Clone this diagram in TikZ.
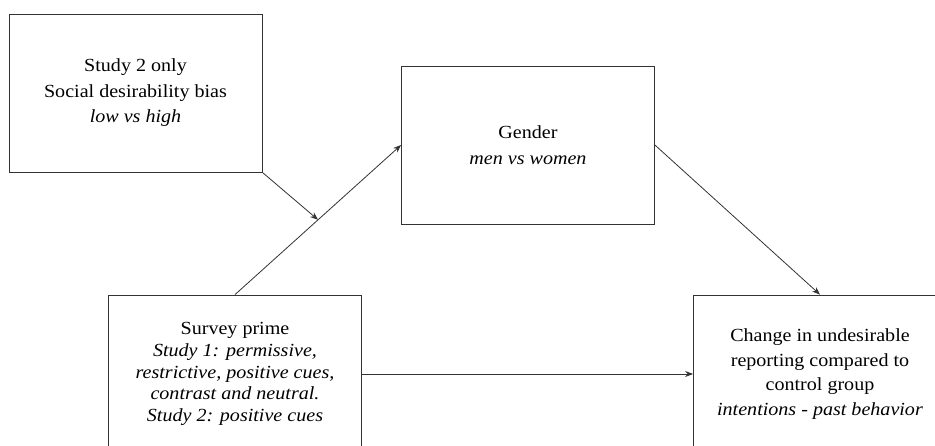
\documentclass[tikz,border=0pt]{standalone}
\usepackage{fontspec}
\setmainfont[FakeStretch=1.085]{Liberation Serif}
\usetikzlibrary{arrows.meta,calc}
\begin{document}
\begin{tikzpicture}[x=1pt,y=-1pt,
  box/.style={draw=black!80, line width=0.8pt, minimum width=253pt, minimum height=158pt, inner sep=0pt, align=center, font=\fontsize{18.5}{25.5}\selectfont},
  conn/.style={draw=black!80, line width=0.8pt, -{Stealth[length=8pt,width=6pt]}}
]
\useasboundingbox (0,0) rectangle (935,445);
\node[box] (mod) at (135.5,93) {Study 2 only\\Social desirability bias\\\textit{low vs high}};
\node[box] (gen) at (528,145) {Gender\\\textit{men vs women}};
\node[box, font=\fontsize{18.5}{21.8}\selectfont] (sur) at (235,374) {Survey prime\\\textit{Study 1: permissive,}\\\textit{restrictive, positive cues,}\\\textit{contrast and neutral.}\\\textit{Study 2: positive cues}};
\node[box, font=\fontsize{18.5}{24.5}\selectfont] (out) at (820,374) {Change in undesirable\\reporting compared to\\control group\\\textit{intentions - past behavior}};
\coordinate (mid) at ($(sur.north)!0.5!(gen.west)$);
\draw[conn] (sur.north) -- (gen.west);
\draw[conn] (gen.east) -- (out.north);
\draw[conn] (sur.east) -- (out.west);
\draw[conn] (mod.south east) -- (mid);
\end{tikzpicture}
\end{document}
